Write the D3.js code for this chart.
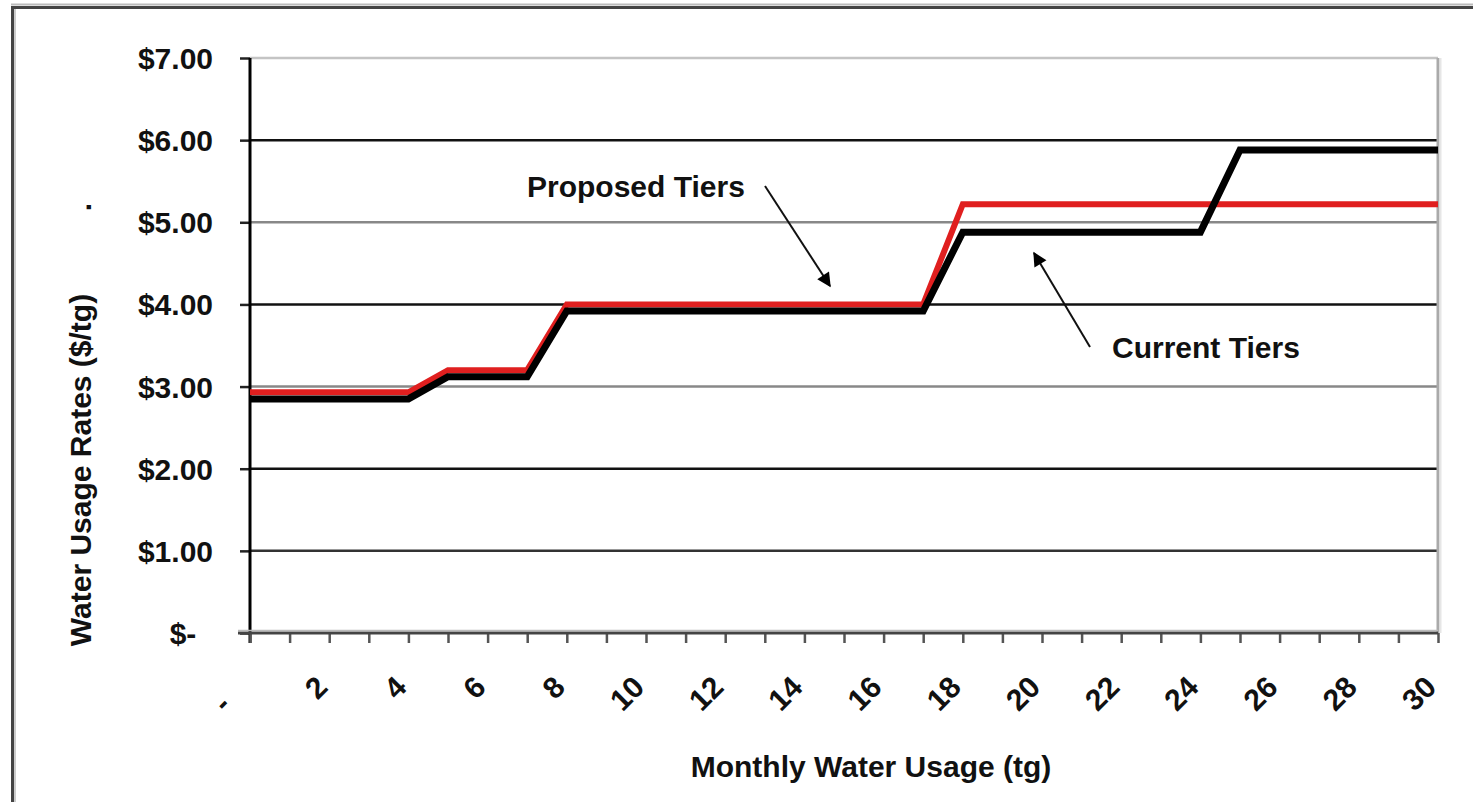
<!DOCTYPE html>
<html>
<head>
<meta charset="utf-8">
<script src="https://cdn.jsdelivr.net/npm/d3@7"></script>
<style>
  html, body { margin: 0; padding: 0; background: #fff; }
  svg { display: block; }
  text { font-family: "Liberation Sans", Arial, sans-serif; font-weight: bold; fill: #111; }
</style>
</head>
<body>
<script>
// ---- data ----
const currentX   = [0, 4, 5, 7, 8, 17, 18, 24, 25, 30];
const currentY   = [2.85, 2.85, 3.12, 3.12, 3.92, 3.92, 4.88, 4.88, 5.88, 5.88];
const proposedX  = [0, 4, 5, 7, 8, 17, 18, 30];
const proposedY  = [2.93, 2.93, 3.20, 3.20, 4.00, 4.00, 5.22, 5.22];
const yTicks     = [0, 1, 2, 3, 4, 5, 6, 7];
const yTickLabels = ["$-\u00A0\u00A0", "$1.00", "$2.00", "$3.00", "$4.00", "$5.00", "$6.00", "$7.00"];
const xMinorTicks = d3.range(0, 31, 1);
const xTicks     = [0, 2, 4, 6, 8, 10, 12, 14, 16, 18, 20, 22, 24, 26, 28, 30];
const xTickLabels = ["-\u00A0\u00A0\u00A0", "2", "4", "6", "8", "10", "12", "14", "16", "18", "20", "22", "24", "26", "28", "30"];
const xTitle = "Monthly Water Usage (tg)";
const yTitle = "Water Usage Rates ($/tg)";
const annotations = [
  { text: "Proposed Tiers", tx: 527, ty: 197, ax1: 765, ay1: 186, ax2: 830, ay2: 286 },
  { text: "Current Tiers",  tx: 1112, ty: 358, ax1: 1090, ay1: 347, ax2: 1034, ay2: 253 }
];

// ---- layout ----
const W = 1473, H = 802;
const x = d3.scaleLinear().domain([0, 30]).range([250, 1438]);
const y = d3.scaleLinear().domain([0, 7]).range([633, 58]);

const svg = d3.select("body").append("svg").attr("width", W).attr("height", H);

// outer frame (top & left)
svg.append("line").attr("x1", 11).attr("x2", W).attr("y1", 4.5).attr("y2", 4.5).attr("stroke", "#bbb").attr("stroke-width", 2);
svg.append("line").attr("x1", 11).attr("x2", W).attr("y1", 7.5).attr("y2", 7.5).attr("stroke", "#444").attr("stroke-width", 3);
svg.append("line").attr("x1", 12.5).attr("x2", 12.5).attr("y1", 6).attr("y2", H).attr("stroke", "#444").attr("stroke-width", 3);
svg.append("line").attr("x1", 15).attr("x2", 15).attr("y1", 9).attr("y2", H).attr("stroke", "#ccc").attr("stroke-width", 2);

// gridlines
const gridColors = { 1: "#333", 2: "#111", 3: "#888", 4: "#111", 5: "#888", 6: "#111", 7: "#c4c4c4" };
svg.append("g").selectAll("line").data(yTicks.filter(d => d > 0)).join("line")
  .attr("x1", x(0)).attr("x2", x(30))
  .attr("y1", d => y(d)).attr("y2", d => y(d))
  .attr("stroke", d => gridColors[d]).attr("stroke-width", 2.5);

// right plot border
svg.append("line").attr("x1", x(30)).attr("x2", x(30)).attr("y1", y(7)).attr("y2", y(0))
  .attr("stroke", "#aaa").attr("stroke-width", 3);
svg.append("line").attr("x1", x(30) + 2.5).attr("x2", x(30) + 2.5).attr("y1", y(7)).attr("y2", y(0))
  .attr("stroke", "#e6e6e6").attr("stroke-width", 2);

// y axis
const yAxis = d3.axisLeft(y).tickValues(yTicks).tickSize(10).tickFormat((d, i) => yTickLabels[i]);
const gy = svg.append("g").attr("transform", `translate(${x(0)},0)`).call(yAxis);
gy.select(".domain").remove();
gy.selectAll(".tick line").attr("stroke", "#222").attr("stroke-width", 2.5);
gy.selectAll(".tick text").attr("x", -37).attr("dy", "0.35em")
  .style("font-size", "30px").style("font-family", "'Liberation Sans', Arial, sans-serif")
  .style("font-weight", "bold").attr("fill", "#111");
svg.append("line").attr("x1", x(0)).attr("x2", x(0)).attr("y1", y(7)).attr("y2", y(0) + 10)
  .attr("stroke", "#000").attr("stroke-width", 3);

// x axis
const xAxis = d3.axisBottom(x).tickValues(xMinorTicks).tickSize(10).tickFormat("");
const gx = svg.append("g").attr("transform", `translate(0,${y(0)})`).call(xAxis);
gx.select(".domain").remove();
gx.selectAll(".tick line").attr("stroke", "#555").attr("stroke-width", 2.5);
svg.append("line").attr("x1", x(0) - 12).attr("x2", x(30)).attr("y1", y(0)).attr("y2", y(0))
  .attr("stroke", "#444").attr("stroke-width", 3);
svg.append("line").attr("x1", x(0) - 12).attr("x2", x(30)).attr("y1", y(0) - 2.5).attr("y2", y(0) - 2.5)
  .attr("stroke", "#bbb").attr("stroke-width", 1.5);

svg.append("g").selectAll("text").data(xTicks).join("text")
  .attr("transform", d => `translate(${x(d)},${y(0) + 56}) rotate(-45)`)
  .attr("text-anchor", "end")
  .style("font-size", "30px")
  .text((d, i) => xTickLabels[i]);

// axis titles
svg.append("text").attr("x", 871).attr("y", 777).attr("text-anchor", "middle")
  .style("font-size", "30px").text(xTitle);
svg.append("text").attr("transform", "translate(91,470) rotate(-90)").attr("text-anchor", "middle")
  .style("font-size", "30px").text(yTitle);
svg.append("text").attr("transform", "translate(91,207) rotate(-90)").attr("text-anchor", "middle")
  .style("font-size", "30px").text(".");

// series lines
const line = d3.line().x(d => x(d[0])).y(d => y(d[1])).curve(d3.curveLinear);
const proposed = proposedX.map((v, i) => [v, proposedY[i]]);
const current = currentX.map((v, i) => [v, currentY[i]]);
svg.append("path").datum(proposed).attr("d", line)
  .attr("fill", "none").attr("stroke", "#e01f1f").attr("stroke-width", 6).attr("stroke-linejoin", "miter");
svg.append("path").datum(current).attr("d", line)
  .attr("fill", "none").attr("stroke", "#000").attr("stroke-width", 7).attr("stroke-linejoin", "miter");

// annotations
svg.append("defs").append("marker")
  .attr("id", "arrow").attr("viewBox", "0 0 10 10").attr("refX", 9).attr("refY", 5)
  .attr("markerUnits", "userSpaceOnUse").attr("markerWidth", 16).attr("markerHeight", 14)
  .attr("orient", "auto")
  .append("path").attr("d", "M0,0 L10,5 L0,10 Z").attr("fill", "#000");

const ann = svg.append("g").selectAll("g").data(annotations).join("g");
ann.append("text").attr("x", d => d.tx).attr("y", d => d.ty).style("font-size", "30px").text(d => d.text);
ann.append("line")
  .attr("x1", d => d.ax1).attr("y1", d => d.ay1).attr("x2", d => d.ax2).attr("y2", d => d.ay2)
  .attr("stroke", "#111").attr("stroke-width", 2).attr("marker-end", "url(#arrow)");
</script>
</body>
</html>
